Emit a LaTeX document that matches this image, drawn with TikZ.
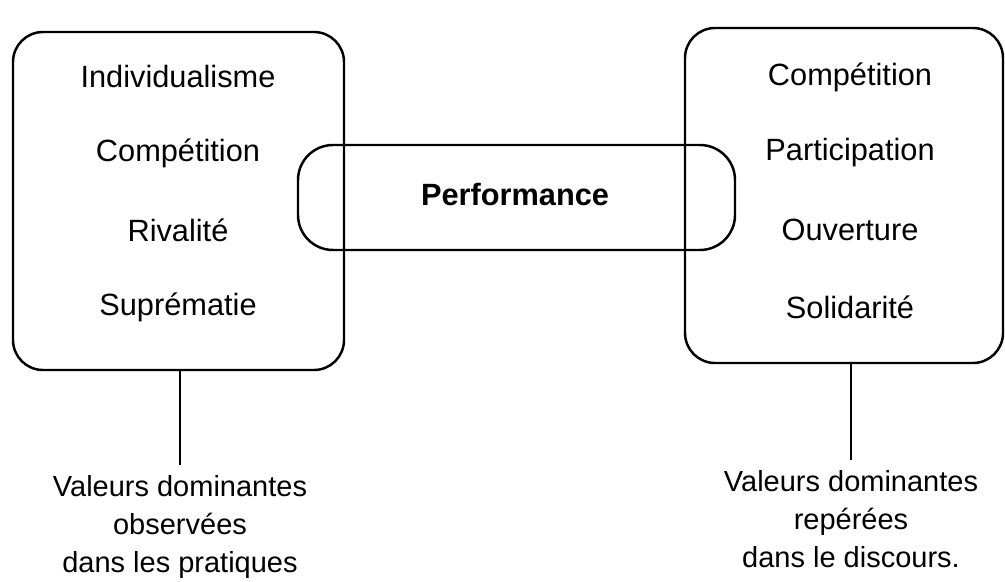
\documentclass[tikz,border=0pt]{standalone}
\usepackage{fontspec}
\setmainfont{Liberation Sans}
\usepackage{tikz}
\usetikzlibrary{positioning}
\usetikzlibrary{calc}
\tikzstyle{valuebox}=[draw,rounded corners=0.6cm,line width=1.4pt,inner sep=0pt]
\tikzstyle{centerbox}=[draw,rounded corners=0.7cm,line width=1.4pt,inner sep=0pt,minimum width=8.74cm,minimum height=2.1cm]
\tikzstyle{word}=[font=\fontsize{17.5}{21}\selectfont,inner sep=0pt]
\tikzstyle{note}=[font=\fontsize{16.5}{21.5}\selectfont,align=center,inner xsep=1pt,inner ysep=6pt]
\tikzstyle{link} = [draw,line width=1.1pt]

\begin{document}
\begin{tikzpicture}
  \useasboundingbox (0,0) rectangle (20.1,11.62);

  % the two boxes of values and the central one
  \node[valuebox,minimum width=6.62cm,minimum height=6.76cm] (left) at (3.57,7.60) {};
  \node[valuebox,minimum width=6.36cm,minimum height=6.70cm] (right) at (16.88,7.71) {};
  \node[centerbox] (perf) at (10.33,7.67) {};
  \node[word,font=\fontsize{17.5}{21}\selectfont\bfseries] (perflabel) at (10.30,7.72) {Performance};

  \foreach \pos/\name/\label in {{(3.56,10.08)/lone/Individualisme}, {(3.56,8.56)/ltwo/Compétition},
                                 {(3.56,7.02)/lthree/Rivalité}, {(3.56,5.48)/lfour/Suprématie}}
        \node[word] (\name) at \pos {\label};

  \foreach \pos/\name/\label in {{(17.0,10.08)/rone/Compétition}, {(17.0,8.56)/rtwo/Participation},
                                 {(17.0,7.02)/rthree/Ouverture}, {(17.0,5.48)/rfour/Solidarité}}
        \node[word] (\name) at \pos {\label};

  % notes under the boxes
  \node[note,anchor=north] (lnote) at (3.60,2.32) {Valeurs dominantes\\observées\\dans les pratiques};
  \node[note,anchor=north] (rnote) at (17.02,2.42) {Valeurs dominantes\\repérées\\dans le discours.};

  \path[link] (left.south -| lnote.north) -- (lnote.north);
  \path[link] (right.south -| rnote.north) -- (rnote.north);
\end{tikzpicture}
\end{document}
